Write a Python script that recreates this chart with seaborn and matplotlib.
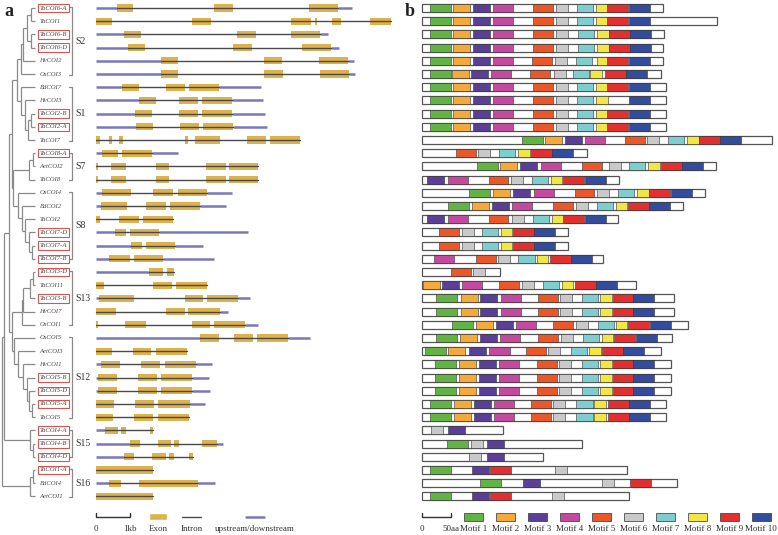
import matplotlib
matplotlib.use("Agg")
import matplotlib.pyplot as plt
from matplotlib.patches import Rectangle
import seaborn as sns

# -------------------------------
# Data
# -------------------------------
genes = ["TaCOI6-A", "TaCOI1", "TaCOI6-B", "TaCOI6-D", "HvCOI2", "OsCOI3",
         "BdCOI7", "HvCOI3", "TaCOI2-B", "TaCOI2-A", "TaCOI7",
         "TaCOI8-A", "AetCOI2", "TaCOI8",
         "OsCOI4", "BdCOI2", "TaCOI2", "TaCOI7-D", "TaCOI7-A", "TaCOI7-B",
         "TaCOI3-D", "TaCOI11", "TaCOI3-B", "HvCOI7", "OsCOI1",
         "OsCOI5", "AetCOI3", "HvCOI1", "TaCOI5-B", "TaCOI5-D", "TaCOI5-A", "TaCOI5",
         "TaCOI4-A", "TaCOI4-B", "TaCOI4-D",
         "TaCOI1-A", "BdCOI4", "AetCOI1"]

subgroups = [("S2", 0, 5), ("S1", 6, 10), ("S7", 11, 13), ("S8", 14, 19),
             ("S13", 20, 24), ("S12", 25, 31), ("S15", 32, 34), ("S16", 35, 37)]

# tree: (node depth, left, right); leaves are row indices
S2 = (21, (23, (26.7, (30.7, 0, 1), (30.7, 2, 3)), 4), 5)
S1 = (20.7, 6, (25, 7, (28.3, (30.7, 8, 9), 10)))
S7 = (29.3, (33.3, 11, 12), 13)
S8 = (18, 14, (21.7, 15, (25, 16, (29.3, 17, (31.7, 18, 19)))))
S13 = (21.7, (23, (30, (33, 20, 21), 22), 23), 24)
S12 = (14, 25, (18, 26, (23, 27, (27, 28, (29, 29, (32, 30, 31))))))
S15 = (30, 32, (33, 33, 34))
S16 = (30, (33, 35, 36), 37)
tree = (1.5, (4, (9, (11.7, (16.7, S2, S1), (13, S7, S8)), (12, S13, S12)), S15), S16)

# gene structure (kb)
gene_end = [7.53, 8.68, 6.82, 7.15, 7.59, 7.62, 4.85, 4.91, 4.97, 5.03, 6.00,
            2.41, 4.76, 4.76, 4.00, 3.82, 2.26, 4.47, 3.15, 3.47,
            2.29, 3.26, 4.53, 3.88, 4.76, 6.29, 2.68, 3.41, 3.32, 3.35, 3.21, 2.74,
            1.68, 3.74, 2.85, 1.68, 3.50, 1.68]
exons = [
    [(0.61, 1.10), (3.47, 4.02), (6.26, 7.12)],
    [(0, 0.47), (2.82, 3.38), (5.74, 6.32), (6.44, 6.50), (6.94, 7.21), (8.06, 8.68)],
    [(0.82, 1.32), (4.15, 4.71), (5.74, 6.59)],
    [(0.94, 1.44), (4.03, 4.59), (6.06, 6.91)],
    [(1.91, 2.41), (4.94, 5.47), (6.56, 7.41)],
    [(1.91, 2.41), (4.94, 5.50), (6.59, 7.44)],
    [(0.76, 1.26), (2.06, 2.62), (2.74, 3.62)],
    [(1.26, 1.76), (2.44, 3.00), (3.12, 4.00)],
    [(1.15, 1.65), (2.44, 3.00), (3.12, 4.00)],
    [(1.18, 1.68), (2.47, 3.03), (3.15, 4.03)],
    [(0, 0.12), (0.38, 0.47), (0.68, 0.79), (2.62, 2.71), (2.91, 3.65), (4.44, 5.00), (5.12, 6.00)],
    [(0.18, 0.65), (0.76, 1.65)],
    [(0, 0.06), (0.44, 0.88), (1.76, 2.15), (3.24, 3.82), (3.91, 4.76)],
    [(0, 0.06), (0.44, 0.88), (1.76, 2.15), (3.24, 3.82), (3.91, 4.76)],
    [(0.18, 1.03), (1.68, 2.26), (2.41, 3.26)],
    [(0.15, 0.91), (1.47, 2.06), (2.18, 3.06)],
    [(0, 0.12), (0.68, 1.26), (1.38, 2.26)],
    [(0.56, 0.88), (1.00, 1.85)],
    [(1.03, 1.35), (1.47, 2.32)],
    [(0.38, 1.00), (1.12, 1.97)],
    [(1.56, 1.97), (2.09, 2.29)],
    [(0, 0.24), (1.68, 2.24), (2.35, 3.26)],
    [(0.09, 1.12), (2.62, 3.15), (3.26, 4.18)],
    [(0, 0.59), (2.06, 2.62), (2.71, 3.65)],
    [(0, 0.06), (0.85, 1.47), (2.82, 3.35), (3.47, 4.38)],
    [(3.06, 3.62), (4.06, 4.62), (4.74, 5.65)],
    [(0, 0.47), (1.09, 1.62), (1.76, 2.68)],
    [(0.15, 0.71), (1.32, 1.88), (2.03, 2.94)],
    [(0.06, 0.62), (1.24, 1.79), (1.91, 2.82)],
    [(0.06, 0.62), (1.24, 1.79), (1.91, 2.82)],
    [(0, 0.53), (1.15, 1.71), (1.82, 2.76)],
    [(0, 0.50), (1.12, 1.68), (1.82, 2.74)],
    [(0.26, 0.65), (0.74, 0.88), (1.59, 1.68)],
    [(1.00, 1.29), (1.82, 2.21), (2.29, 2.44), (3.12, 3.56)],
    [(0.82, 1.12), (1.65, 2.06), (2.15, 2.29), (2.74, 2.85)],
    [(0, 1.68)],
    [(0.38, 0.74), (1.26, 3.00)],
    [(0, 1.68)],
]

# conserved motifs (aa)
motif_len = [36, 29, 29, 35, 34, 21, 28, 20, 36, 36]
motif_colors = ["#62b245", "#f4a93c", "#5a3f96", "#c24a9f", "#e8582b",
                "#c9c9c9", "#80cdd0", "#f1e646", "#e0302f", "#344c9c"]
prot_len = [415, 509, 417, 415, 415, 412, 421, 421, 421, 421, 603,
            284, 507, 340, 488, 450, 338, 252, 252, 312,
            134, 369, 434, 434, 459, 431, 412, 429, 429, 429, 421, 421,
            140, 276, 209, 353, 439, 357]
motif_hits = [
    [(1, 14), (2, 53), (3, 88), (4, 122), (5, 191), (6, 231), (7, 267), (8, 300), (9, 319), (10, 357)],
    [(1, 14), (2, 53), (3, 88), (4, 122), (5, 191), (6, 231), (7, 267), (8, 300), (9, 319), (10, 357)],
    [(1, 14), (2, 53), (3, 88), (4, 122), (5, 191), (6, 231), (7, 269), (8, 302), (9, 322), (10, 359)],
    [(1, 14), (2, 53), (3, 88), (4, 122), (5, 191), (6, 231), (7, 269), (8, 302), (9, 322), (10, 359)],
    [(1, 14), (2, 53), (3, 88), (4, 122), (5, 190), (6, 229), (7, 265), (8, 302), (9, 319), (10, 357)],
    [(1, 14), (2, 52), (3, 84), (4, 119), (5, 186), (6, 228), (7, 260), (8, 290), (9, 315), (10, 352)],
    [(1, 14), (2, 53), (3, 88), (4, 122), (5, 191), (6, 231), (7, 267), (8, 300), (9, 319), (10, 357)],
    [(1, 14), (2, 53), (3, 88), (4, 122), (5, 191), (6, 231), (7, 267), (8, 300), (10, 357)],
    [(1, 14), (2, 53), (3, 88), (4, 122), (5, 191), (6, 231), (7, 267), (8, 300), (9, 319), (10, 357)],
    [(1, 14), (2, 53), (3, 88), (4, 122), (5, 191), (6, 231), (7, 267), (8, 300), (9, 319), (10, 357)],
    [(1, 172), (2, 212), (3, 247), (4, 281), (5, 350), (6, 388), (7, 424), (8, 457), (9, 478), (10, 514)],
    [(5, 59), (6, 97), (7, 133), (8, 166), (9, 188), (10, 224)],
    [(1, 95), (2, 135), (3, 169), (4, 205), (5, 276), (6, 322), (7, 357), (8, 390), (9, 412), (10, 448)],
    [(3, 9), (4, 45), (5, 115), (6, 153), (7, 190), (8, 222), (9, 243), (10, 281)],
    [(1, 81), (2, 122), (3, 157), (4, 193), (5, 263), (6, 302), (7, 338), (8, 371), (9, 391), (10, 429)],
    [(1, 45), (2, 86), (3, 121), (4, 155), (5, 226), (6, 265), (7, 302), (8, 334), (9, 355), (10, 391)],
    [(3, 9), (4, 45), (5, 115), (6, 155), (7, 191), (8, 224), (9, 243), (10, 281)],
    [(5, 29), (6, 69), (7, 103), (8, 136), (9, 157), (10, 193)],
    [(5, 29), (6, 69), (7, 103), (8, 136), (9, 157), (10, 193)],
    [(4, 21), (5, 93), (6, 131), (7, 166), (8, 198), (9, 221), (10, 257)],
    [(5, 50), (6, 88)],
    [(2, 2), (3, 34), (4, 69), (5, 133), (6, 172), (7, 209), (8, 241), (9, 264), (10, 300)],
    [(1, 24), (2, 67), (3, 100), (4, 136), (5, 200), (6, 238), (7, 276), (8, 307), (9, 329), (10, 364)],
    [(1, 24), (2, 67), (3, 100), (4, 136), (5, 200), (6, 238), (7, 276), (8, 307), (9, 329), (10, 364)],
    [(1, 52), (2, 93), (3, 128), (4, 162), (5, 226), (6, 265), (7, 303), (8, 334), (9, 355), (10, 393)],
    [(1, 24), (2, 66), (3, 100), (4, 134), (5, 200), (6, 240), (7, 278), (8, 310), (9, 331), (10, 369)],
    [(1, 5), (2, 45), (3, 81), (4, 116), (5, 179), (6, 217), (7, 257), (8, 288), (9, 310), (10, 347)],
    [(1, 22), (2, 64), (3, 98), (4, 133), (5, 198), (6, 236), (7, 276), (8, 307), (9, 329), (10, 364)],
    [(1, 22), (2, 64), (3, 98), (4, 133), (5, 198), (6, 236), (7, 276), (8, 307), (9, 329), (10, 364)],
    [(1, 22), (2, 64), (3, 98), (4, 133), (5, 198), (6, 236), (7, 276), (8, 307), (9, 329), (10, 364)],
    [(1, 14), (2, 55), (3, 90), (4, 124), (5, 188), (6, 226), (7, 266), (8, 297), (9, 321), (10, 357)],
    [(1, 14), (2, 55), (3, 90), (4, 124), (5, 188), (6, 226), (7, 266), (8, 297), (9, 321), (10, 357)],
    [(6, 16), (3, 45)],
    [(1, 43), (6, 84), (3, 112)],
    [(6, 81), (3, 112)],
    [(1, 14), (3, 86), (9, 117), (6, 229)],
    [(1, 100), (3, 174), (6, 310), (9, 359)],
    [(1, 14), (3, 86), (9, 117), (6, 224)],
]

# -------------------------------
# Style
# -------------------------------
sns.set_theme(style="white")
plt.rcParams['font.family'] = ['Liberation Serif', 'DejaVu Serif']

exon_c = "#dfb14a"
intron_c = "#4a4a4a"
utr_c = "#7a78ba"
tree_c = "#8a8a8a"
text_c = "#4a4a4a"

W, H = 778, 535
fig = plt.figure(figsize=(W / 100, H / 100), dpi=100)
row_top = -8 / 13.2
row_bot = (H - 8) / 13.2


def make_ax(x0, x1):
    ax = fig.add_axes([x0 / W, 0, (x1 - x0) / W, 1])
    ax.set_ylim(row_bot, row_top)
    ax.set_axis_off()
    ax.patch.set_alpha(0)
    return ax


# -------------------------------
# a: tree + labels
# -------------------------------
ax_t = make_ax(0, 96)
ax_t.set_xlim(0, 96)
tip_x = 35


def draw_node(node):
    if isinstance(node, int):
        return tip_x, node
    x, left, right = node
    ys = []
    for child in (left, right):
        cx, cy = draw_node(child)
        ax_t.plot([x, cx], [cy, cy], color=tree_c, lw=0.9, solid_capstyle="butt")
        ys.append(cy)
    ax_t.plot([x, x], ys, color=tree_c, lw=0.9, solid_capstyle="butt")
    return x, sum(ys) / 2


draw_node(tree)

for i, name in enumerate(genes):
    if "-" in name:
        ax_t.text(39.5, i, name, fontsize=4.8, style="italic", color=text_c, va="center",
                  bbox=dict(boxstyle="square,pad=0.25", fc="white", ec="#d9534f", lw=0.8))
    else:
        ax_t.text(39.5, i, name, fontsize=4.8, style="italic", color=text_c, va="center")

for label, r0, r1 in subgroups:
    ax_t.plot([69, 72, 72, 69], [r0 - 0.05, r0 - 0.05, r1 + 0.05, r1 + 0.05],
              color=tree_c, lw=0.9)
    ax_t.text(75, (r0 + r1) / 2, label, fontsize=7, color="#333333", va="center")

fig.text(4 / W, 1 - 3 / H, "a", fontsize=13, fontweight="bold", color="#222222", va="top")

# -------------------------------
# gene structures
# -------------------------------
ax_g = make_ax(86, 406)
ax_g.set_xlim(-10 / 34, 310 / 34)
eh = 0.55
for i, ex in enumerate(exons):
    first, last = ex[0][0], ex[-1][1]
    if first > 0:
        ax_g.plot([0, first], [i, i], color=utr_c, lw=1.8, solid_capstyle="butt")
    if gene_end[i] > last:
        ax_g.plot([last, gene_end[i]], [i, i], color=utr_c, lw=1.8, solid_capstyle="butt")
    ax_g.plot([first, last], [i, i], color=intron_c, lw=1.0)
    ax_g.broken_barh([(s, e - s) for s, e in ex], (i - eh / 2, eh), facecolor=exon_c, edgecolor="none")

# legend a
ly = 38.55
ax_g.plot([0, 0, 1, 1], [ly - 0.3, ly, ly, ly - 0.3], color="#333333", lw=1)
ax_g.text(0, 39.5, "0", fontsize=6.5, ha="center", va="center", color="#333333")
ax_g.text(1, 39.5, "1kb", fontsize=6.5, ha="center", va="center", color="#333333")
ax_g.broken_barh([(1.56, 0.53)], (ly - eh / 2, eh), facecolor=exon_c)
ax_g.text(1.82, 39.5, "Exon", fontsize=6.5, ha="center", va="center", color="#333333")
ax_g.plot([2.53, 3.09], [ly, ly], color=intron_c, lw=1)
ax_g.text(2.81, 39.5, "Intron", fontsize=6.5, ha="center", va="center", color="#333333")
ax_g.plot([4.41, 4.94], [ly, ly], color=utr_c, lw=1.8)
ax_g.text(4.67, 39.5, "upstream/downstream", fontsize=6.5, ha="center", va="center", color="#333333")

# -------------------------------
# b: motifs
# -------------------------------
aa = 50 / 29
ax_m = make_ax(412, 778)
ax_m.set_xlim(-10 * aa, 356 * aa)
mh = 0.6
for i, hits in enumerate(motif_hits):
    ax_m.add_patch(Rectangle((0, i - mh / 2), prot_len[i], mh, facecolor="white",
                             edgecolor="#555555", lw=0.9))
    for m, s in hits:
        ax_m.add_patch(Rectangle((s, i - mh / 2), motif_len[m - 1], mh,
                                 facecolor=motif_colors[m - 1], edgecolor="#333333", lw=0.4))

ax_m.plot([0, 0, 50, 50], [ly - 0.3, ly, ly, ly - 0.3], color="#333333", lw=1)
ax_m.text(0, 39.5, "0", fontsize=6.5, ha="center", va="center", color="#333333")
ax_m.text(50, 39.5, "50aa", fontsize=6.5, ha="center", va="center", color="#333333")
for k in range(10):
    cx = 89 + 55.1 * k
    ax_m.add_patch(Rectangle((cx - 16.5, ly - mh / 2), 33, mh, facecolor=motif_colors[k],
                             edgecolor="#333333", lw=0.5))
    ax_m.text(cx, 39.5, f"Motif {k + 1}", fontsize=6.5, ha="center", va="center", color="#333333")

fig.text(405 / W, 1 - 3 / H, "b", fontsize=13, fontweight="bold", color="#222222", va="top")

fig.savefig("out.png", dpi=100)
